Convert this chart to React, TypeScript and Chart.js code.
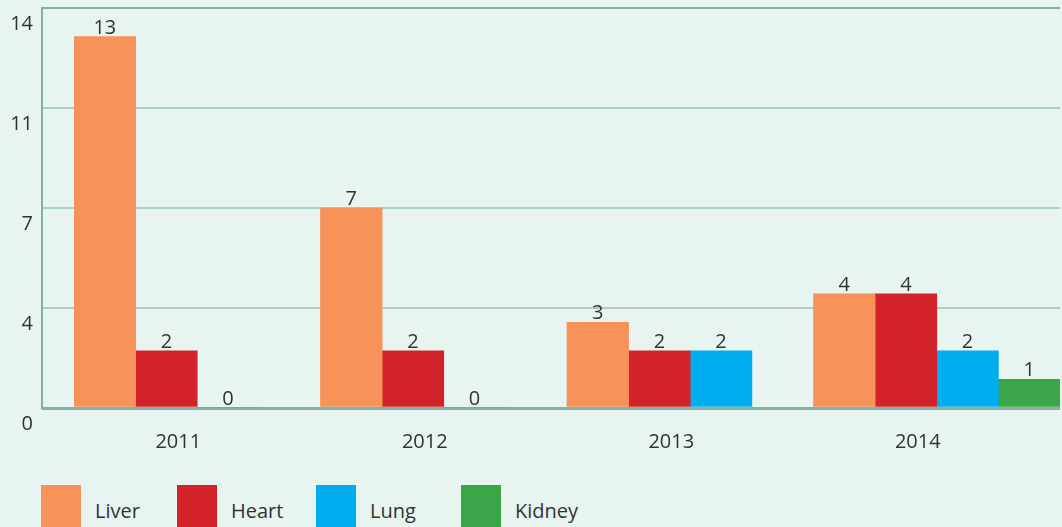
import React, { useEffect, useRef } from "react";
import { Chart, registerables } from "chart.js";

Chart.register(...registerables);

const categories = ["2011", "2012", "2013", "2014"];
const liver = [13, 7, 3, 4];
const heart = [2, 2, 2, 4];
const lung = [0, 0, 2, 2];
const kidney: (number | null)[] = [null, null, null, 1];
const seriesNames = ["Liver", "Heart", "Lung", "Kidney"];
const yTickLabels = ["0", "4", "7", "11", "14"];
const yMax = 14;

const seriesColors = ["#f7925a", "#d2232a", "#00aeef", "#3ba548"];
const legendLeft = [41, 177, 316, 461];
const FONT = "'Open Sans', sans-serif";
const TEXT = "#333333";
const AXIS = "#80b3a3";
const GRID = "#aacfc3";

export default function App() {
  const ref = useRef<HTMLCanvasElement>(null);

  useEffect(() => {
    document.body.style.margin = "0";
    if (!ref.current) return;
    const seriesData = [liver, heart, lung, kidney];
    const datasets = seriesData.map((d, i) => ({
      label: seriesNames[i],
      data: d,
      backgroundColor: seriesColors[i],
      borderWidth: 0,
      barPercentage: 1,
      categoryPercentage: 1,
    }));

    const leftLine = {
      id: "leftLine",
      beforeDatasetsDraw(chart: any) {
        const { ctx, chartArea } = chart;
        ctx.save();
        ctx.strokeStyle = AXIS;
        ctx.lineWidth = 2;
        ctx.beginPath();
        ctx.moveTo(chartArea.left - 32, chartArea.top - 1);
        ctx.lineTo(chartArea.left - 32, chartArea.bottom + 1);
        ctx.stroke();
        ctx.restore();
      },
    };

    const valueLabels = {
      id: "valueLabels",
      afterDatasetsDraw(chart: any) {
        const { ctx } = chart;
        ctx.save();
        ctx.font = `20px ${FONT}`;
        ctx.fillStyle = TEXT;
        ctx.textAlign = "center";
        ctx.textBaseline = "alphabetic";
        chart.data.datasets.forEach((ds: any, di: number) => {
          const meta = chart.getDatasetMeta(di);
          meta.data.forEach((bar: any, i: number) => {
            const v = ds.data[i];
            if (v === null || v === undefined) return;
            ctx.fillText(String(v), bar.x, bar.y - 3);
          });
        });
        ctx.restore();
      },
    };

    const chart = new Chart(ref.current, {
      type: "bar",
      data: { labels: categories, datasets: datasets as any },
      options: {
        responsive: false,
        animation: false,
        layout: { padding: { top: 8, right: 2, left: 0, bottom: 0 } },
        plugins: {
          legend: { display: false },
          tooltip: { enabled: false },
        },
        scales: {
          x: {
            grid: { display: false, drawTicks: false },
            border: { display: false },
            ticks: {
              font: { family: FONT, size: 20 },
              color: TEXT,
              padding: 22,
              labelOffset: -19,
            },
            afterFit(scale: any) {
              scale.height = 62;
              scale.paddingLeft = 0;
              scale.paddingRight = 0;
            },
          },
          y: {
            min: 0,
            max: yMax,
            border: { display: false },
            grid: {
              color: (c: any) =>
                c.tick && (c.tick.value === 0 || c.tick.value === yMax) ? AXIS : GRID,
              lineWidth: (c: any) => (c.tick && c.tick.value === 0 ? 3 : 2),
              tickLength: 32,
              drawTicks: true,
            },
            ticks: {
              stepSize: yMax / (yTickLabels.length - 1),
              font: { family: FONT, size: 20 },
              color: TEXT,
              padding: 9,
              labelOffset: 16,
              callback: (_v: any, i: number) => yTickLabels[i],
            },
            afterFit(scale: any) {
              scale.width = 74;
              scale.paddingTop = 0;
              scale.paddingBottom = 0;
            },
          },
        },
      } as any,
      plugins: [leftLine, valueLabels],
    });
    return () => chart.destroy();
  }, []);

  return (
    <div
      style={{
        position: "relative",
        width: 1062,
        height: 527,
        background: "#e8f4ef",
        overflow: "hidden",
        fontFamily: FONT,
      }}
    >
      <canvas ref={ref} width={1062} height={470} style={{ position: "absolute", left: 0, top: 0 }} />
      {seriesNames.map((n, i) => (
        <div
          key={n}
          style={{
            position: "absolute",
            left: legendLeft[i],
            top: 485,
            display: "flex",
            alignItems: "flex-start",
          }}
        >
          <div style={{ width: 40, height: 42, background: seriesColors[i] }} />
          <span
            style={{
              marginLeft: 14,
              marginTop: 14,
              fontSize: 20,
              lineHeight: "24px",
              color: TEXT,
              whiteSpace: "nowrap",
            }}
          >
            {n}
          </span>
        </div>
      ))}
    </div>
  );
}
